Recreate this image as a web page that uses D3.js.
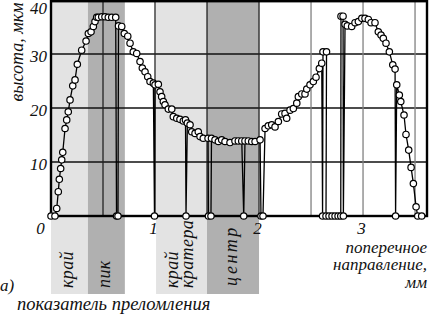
<!DOCTYPE html>
<html><head><meta charset="utf-8">
<script src="https://cdn.jsdelivr.net/npm/d3@7"></script>
<style>
body{margin:0;background:#fff}
svg{display:block}
</style>
</head><body>
<svg id="c" width="430" height="318"></svg>
<script>
// ---- data ----
const xTicks = [0, 1, 2, 3];
const yTicks = [10, 20, 30, 40];
const xGrid = [0.5, 1, 1.5, 2, 2.5, 3, 3.5];
const yGrid = [10, 20, 30];
const bandStart = [0, 0.355, 1.01, 1.5];
const bandEnd   = [0.355, 0.71, 1.5, 2.0];
const bandShade = ["light", "dark", "light", "dark"];
const bandLabels = [["край"], ["пик"], ["край", "кратера"], ["центр"]];

// transverse position, mm
const positionMm = [
  0, 0.038, 0.055, 0.070, 0.080, 0.093, 0.103, 0.113, 0.135, 0.151,
  0.166, 0.183, 0.209, 0.231, 0.253, 0.295, 0.337, 0.359, 0.385, 0.407,
  0.423, 0.439, 0.455, 0.488, 0.519, 0.551, 0.584, 0.622,
  0.630, 0.644, 0.649, 0.680, 0.705, 0.738, 0.760, 0.791, 0.824, 0.856, 0.878, 0.904, 0.930, 0.952, 0.984,
  0.995, 1.000, 1.032, 1.048, 1.064, 1.080, 1.096, 1.128, 1.161, 1.176, 1.209, 1.240, 1.272, 1.293,
  1.298, 1.311, 1.337, 1.353, 1.385, 1.416, 1.433, 1.464, 1.510,
  1.514, 1.538, 1.543, 1.577, 1.609, 1.641, 1.673, 1.721, 1.769, 1.801, 1.834,
  1.853, 1.865, 1.897, 1.930, 1.962, 2.010,
  2.019, 2.038, 2.058, 2.089, 2.122, 2.154, 2.186, 2.218, 2.250, 2.266, 2.298, 2.330, 2.363, 2.378, 2.411, 2.442, 2.459, 2.490, 2.522, 2.548, 2.580, 2.603,
  2.611, 2.615, 2.649, 2.644, 2.673, 2.702, 2.731, 2.760, 2.786, 2.788, 2.808, 2.811,
  2.827, 2.849, 2.891, 2.923, 2.955, 2.988, 3.019, 3.051, 3.077, 3.115, 3.147, 3.173, 3.195, 3.221, 3.253, 3.286, 3.308,
  3.313, 3.324, 3.349, 3.363, 3.394, 3.413, 3.439, 3.462, 3.484, 3.510, 3.526, 3.564
];
// height, µm
const heightUm = [
  0, 0, 1.4, 4.5, 6.8, 8.8, 10.4, 11.8, 16.2, 17.8,
  19.3, 21.5, 24.1, 25.2, 28.1, 30.7, 32.4, 33.8, 34.1, 35.1,
  36.0, 36.8, 36.8, 36.9, 36.9, 36.8, 36.8, 36.8,
  0, 0, 35.2, 35.1, 33.8, 33.3, 32.0, 30.4, 30.1, 28.6, 27.4, 26.7, 25.8, 24.9, 24.6,
  0, 24.3, 24.4, 23.0, 22.1, 21.2, 20.6, 19.8, 19.8, 18.4, 18.1, 17.9, 17.6, 17.8,
  0, 17.2, 16.9, 15.6, 15.3, 15.6, 14.7, 14.4, 14.4,
  0, 0, 14.4, 14.1, 13.8, 14.1, 13.8, 13.6, 13.9, 13.9, 13.9,
  0, 13.9, 13.9, 13.8, 13.8, 14.1,
  0, 0, 16.2, 16.7, 16.9, 16.5, 17.5, 18.9, 19.0, 18.1, 19.6, 19.9, 20.9, 22.1, 22.6, 22.6, 23.5, 24.3, 24.9, 25.7, 27.3, 28.3,
  0, 30.4, 30.4, 0, 0, 0, 0, 0, 0, 37.0, 37.0, 0,
  35.5, 35.2, 35.1, 35.8, 36.0, 36.6, 36.6, 36.4, 35.8, 35.8, 34.1, 33.5, 32.9, 32.0, 30.4, 28.0, 27.2,
  0, 24.3, 22.4, 21.2, 18.7, 15.1, 12.2, 9.0, 6.0, 1.7, 0, 0
];

const yTitle = "высота, мкм";
const xTitleLines = ["поперечное", "направление,", "мм"];
const panelTag = "а)";
const legendText = "показатель преломления";

// ---- drawing ----
const FONT = "'Liberation Serif', 'Times New Roman', Times, serif";
const svg = d3.select("#c");
const x = d3.scaleLinear().domain([0, 3.615]).range([51, 427]);
const y = d3.scaleLinear().domain([0, 40]).range([216, 0]);
const shade = {light: "#e3e3e3", dark: "#b0b0b0"};
const bandBottom = 294;

function label(sel) {
  return sel.attr("font-family", FONT).attr("font-style", "italic").attr("fill", "#111");
}

const points = positionMm.map((v, i) => ({x: v, y: heightUm[i]}));
const bands = bandStart.map((s, i) => ({s, e: bandEnd[i], shade: bandShade[i], labels: bandLabels[i]}));

// bands
svg.append("g").selectAll("rect").data(bands).join("rect")
  .attr("x", d => x(d.s)).attr("y", 0)
  .attr("width", d => x(d.e) - x(d.s)).attr("height", bandBottom)
  .attr("fill", d => shade[d.shade]);

// band labels (rotated, reading upward, starting near the band bottom)
bands.forEach((b, i) => {
  const cx = (x(b.s) + x(b.e)) / 2;
  const n = b.labels.length;
  b.labels.forEach((t, j) => {
    const bx = cx + 4 + (j - (n - 1) / 2) * 15;
    label(svg.append("text")).attr("transform", `translate(${bx},${i === 3 ? 286 : 288}) rotate(-90)`)
      .attr("font-size", 18)
      .attr("letter-spacing", i === 3 ? 2.5 : 0.4)
      .text(t);
  });
});

// grid
svg.append("g").selectAll("line").data(yGrid).join("line")
  .attr("x1", x(0)).attr("x2", x(3.615)).attr("y1", d => y(d)).attr("y2", d => y(d))
  .attr("stroke", "#111").attr("stroke-width", 1.3);
svg.append("g").selectAll("line").data(xGrid).join("line")
  .attr("x1", d => x(d)).attr("x2", d => x(d)).attr("y1", y(40)).attr("y2", y(0))
  .attr("stroke", d => d <= 2 ? "#222" : "#808080").attr("stroke-width", 1.3);

// frame
svg.append("rect").attr("x", x(0)).attr("y", 1.2)
  .attr("width", x(3.615) - x(0)).attr("height", y(0) - 1.2)
  .attr("fill", "none").attr("stroke", "#000").attr("stroke-width", 2.4);

// axes (labels only)
const xAxis = svg.append("g").attr("transform", `translate(0,${y(0)})`)
  .call(d3.axisBottom(x).tickValues(xTicks).tickSize(0).tickPadding(6).tickFormat(d3.format("d")));
xAxis.select(".domain").remove();
label(xAxis.selectAll("text")).attr("font-size", 17)
  .attr("dx", d => d === 0 ? -11 : -2);

const yAxis = svg.append("g").attr("transform", `translate(${x(0)},0)`)
  .call(d3.axisLeft(y).tickValues(yTicks).tickSize(0).tickPadding(4));
yAxis.select(".domain").remove();
label(yAxis.selectAll("text")).attr("font-size", 17)
  .attr("dy", d => d === 40 ? "0.82em" : "0.42em");

// line and markers
svg.append("path").datum(points)
  .attr("d", d3.line().x(d => x(d.x)).y(d => y(d.y)))
  .attr("fill", "none").attr("stroke", "#000").attr("stroke-width", 1.3);
svg.append("g").selectAll("circle").data(points).join("circle")
  .attr("cx", d => x(d.x)).attr("cy", d => y(d.y)).attr("r", 3.2)
  .attr("fill", "#fff").attr("stroke", "#000").attr("stroke-width", 1.2);

// titles
label(svg.append("text")).attr("transform", "translate(23,52) rotate(-90)")
  .attr("text-anchor", "middle").attr("font-size", 18).text(yTitle);
xTitleLines.forEach((t, i) => {
  label(svg.append("text")).attr("x", 427).attr("y", 253 + i * 17.3)
    .attr("text-anchor", "end").attr("font-size", 17).text(t);
});
label(svg.append("text")).attr("x", 0).attr("y", 291).attr("font-size", 17).text(panelTag);
label(svg.append("text")).attr("x", 17).attr("y", 310).attr("font-size", 18.5).text(legendText);
</script>
</body></html>
